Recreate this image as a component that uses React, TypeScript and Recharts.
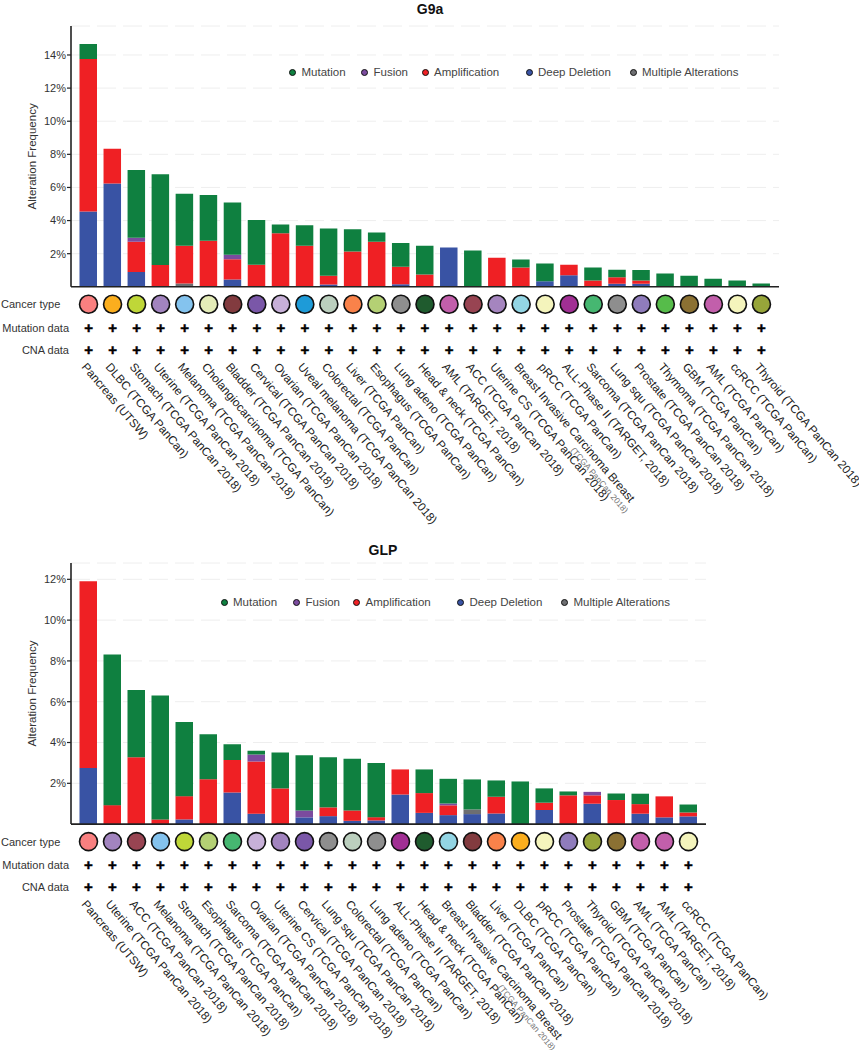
import { BarChart, Bar, XAxis, YAxis, CartesianGrid, Legend } from "recharts";

const FONT = "'Liberation Sans', Arial, sans-serif";

const MUTATION = "#0F8040";
const FUSION = "#7B4B9E";
const AMP = "#EF2024";
const DEEP = "#3953A4";
const MULTI = "#6D6E71";

const legendOrder = ["Mutation", "Fusion", "Amplification", "Deep Deletion", "Multiple Alterations"];

const g9aCategories = [
  "Pancreas (UTSW)", "DLBC (TCGA PanCan)", "Stomach (TCGA PanCan 2018)", "Uterine (TCGA PanCan 2018)",
  "Melanoma (TCGA PanCan 2018)", "Cholangiocarcinoma (TCGA PanCan)", "Bladder (TCGA PanCan 2018)",
  "Cervical (TCGA PanCan 2018)", "Ovarian (TCGA PanCan 2018)", "Uveal melanoma (TCGA PanCan 2018)",
  "Colorectal (TCGA PanCan)", "Liver (TCGA PanCan)", "Esophagus (TCGA PanCan)", "Lung adeno (TCGA PanCan)",
  "Head & neck (TCGA PanCan)", "AML (TARGET, 2018)", "ACC (TCGA PanCan 2018)", "Uterine CS (TCGA PanCan 2018)",
  "Breast Invasive Carcinoma Breast (TCGA PanCan 2018)", "pRCC (TCGA PanCan)", "ALL-Phase II (TARGET, 2018)",
  "Sarcoma (TCGA PanCan 2018)", "Lung squ (TCGA PanCan 2018)", "Prostate (TCGA PanCan 2018)",
  "Thymoma (TCGA PanCan 2018)", "GBM (TCGA PanCan)", "AML (TCGA PanCan)", "ccRCC (TCGA PanCan)",
  "Thyroid (TCGA PanCan 2018)",
];
const g9aDeep = [4.55, 6.24, 0.89, 0, 0, 0, 0.44, 0, 0, 0, 0.14, 0, 0, 0.16, 0, 2.38, 0, 0, 0, 0.34, 0.7, 0, 0.18, 0.18, 0, 0, 0, 0, 0];
const g9aMulti = [0, 0, 0, 0, 0.2, 0, 0, 0, 0, 0, 0, 0, 0, 0, 0, 0, 0, 0, 0, 0, 0, 0, 0, 0, 0, 0, 0, 0, 0];
const g9aAmp = [9.2, 2.09, 1.83, 1.31, 2.28, 2.78, 1.23, 1.33, 3.24, 2.48, 0.52, 2.13, 2.72, 1.05, 0.74, 0, 0, 1.75, 1.17, 0, 0.63, 0.38, 0.4, 0.2, 0, 0, 0, 0, 0];
const g9aFusion = [0, 0, 0.24, 0, 0, 0, 0.26, 0, 0, 0, 0, 0, 0, 0, 0, 0, 0, 0, 0, 0, 0, 0, 0, 0, 0, 0, 0, 0, 0];
const g9aMutation = [0.92, 0, 4.09, 5.49, 3.14, 2.76, 3.16, 2.7, 0.52, 1.24, 2.86, 1.35, 0.56, 1.43, 1.74, 0, 2.19, 0, 0.48, 1.07, 0, 0.79, 0.45, 0.63, 0.81, 0.66, 0.48, 0.38, 0.2];
const g9aColors = [
  "#F98080", "#FBAE1E", "#BFD738", "#A284BF", "#84C3EE", "#E4ECB8", "#823B3F", "#7A57A8", "#C7B0D8", "#1E9BD8",
  "#BBCFBE", "#F9824A", "#B4D074", "#8E8E8E", "#1F5B2E", "#C25FAB", "#984452", "#A585BF", "#93D5E4", "#F4F4BC",
  "#A12F94", "#46B771", "#8E8E8E", "#8F7CBC", "#56BC4A", "#8B7133", "#C25FAB", "#F4F4BC", "#97A53A",
];
const g9aTicks = [2, 4, 6, 8, 10, 12, 14];

const glpCategories = [
  "Pancreas (UTSW)", "Uterine (TCGA PanCan 2018)", "ACC (TCGA PanCan 2018)", "Melanoma (TCGA PanCan 2018)",
  "Stomach (TCGA PanCan 2018)", "Esophagus (TCGA PanCan)", "Sarcoma (TCGA PanCan 2018)", "Ovarian (TCGA PanCan 2018)",
  "Uterine CS (TCGA PanCan 2018)", "Cervical (TCGA PanCan 2018)", "Lung squ (TCGA PanCan 2018)",
  "Colorectal (TCGA PanCan)", "Lung adeno (TCGA PanCan)", "ALL-Phase II (TARGET, 2018)", "Head & neck (TCGA PanCan)",
  "Breast Invasive Carcinoma Breast (TCGA PanCan 2018)", "Bladder (TCGA PanCan 2018)", "Liver (TCGA PanCan)",
  "DLBC (TCGA PanCan)", "pRCC (TCGA PanCan)", "Prostate (TCGA PanCan 2018)", "Thyroid (TCGA PanCan 2018)",
  "GBM (TCGA PanCan)", "AML (TCGA PanCan)", "AML (TARGET, 2018)", "ccRCC (TCGA PanCan)",
];
const glpDeep = [2.75, 0, 0, 0, 0.23, 0, 1.55, 0.51, 0, 0.33, 0.39, 0.16, 0.18, 1.45, 0.55, 0.44, 0.49, 0.52, 0, 0.69, 0, 1.0, 0, 0.51, 0.33, 0.38];
const glpMulti = [0, 0, 0, 0, 0, 0, 0, 0, 0, 0, 0, 0, 0, 0, 0, 0, 0.23, 0, 0, 0, 0, 0, 0, 0, 0, 0];
const glpAmp = [9.16, 0.93, 3.28, 0.23, 1.14, 2.2, 1.59, 2.56, 1.75, 0, 0.43, 0.51, 0.16, 1.23, 0.97, 0.48, 0, 0.82, 0, 0.36, 1.41, 0.41, 1.18, 0.47, 1.03, 0.19];
const glpFusion = [0, 0, 0, 0, 0, 0, 0, 0.34, 0, 0.34, 0, 0, 0, 0, 0, 0.09, 0, 0, 0, 0, 0, 0.17, 0, 0, 0, 0];
const glpMutation = [0, 7.39, 3.3, 6.08, 3.63, 2.2, 0.78, 0.18, 1.76, 2.7, 2.46, 2.53, 2.66, 0, 1.16, 1.21, 1.47, 0.8, 2.09, 0.7, 0.19, 0, 0.32, 0.51, 0, 0.39];
const glpColors = [
  "#F98080", "#A284BF", "#984452", "#84C3EE", "#BFD738", "#B4D074", "#46B771", "#C7B0D8", "#A284BF", "#7A57A8",
  "#8E8E8E", "#BBCFBE", "#8E8E8E", "#A12F94", "#1F5B2E", "#93D5E4", "#823B3F", "#F9824A", "#FBAE1E", "#F4F4BC",
  "#8F7CBC", "#97A53A", "#8B7133", "#C25FAB", "#C25FAB", "#F4F4BC",
];
const glpTicks = [2, 4, 6, 8, 10, 12];

function buildRows(cats: string[], deep: number[], multi: number[], amp: number[], fusion: number[], mutation: number[]) {
  return cats.map((name, i) => ({
    name,
    "Deep Deletion": deep[i],
    "Multiple Alterations": multi[i],
    Amplification: amp[i],
    Fusion: fusion[i],
    Mutation: mutation[i],
  }));
}

// everything under the axis hangs off the tick: circle, two plus rows, slanted label
function CancerTick({ x, y, index, payload, colors }: any) {
  const label: string = payload.value;
  const isBreast = label.startsWith("Breast");
  const main = isBreast ? "Breast Invasive Carcinoma Breast" : label;
  return (
    <g fontFamily={FONT}>
      {index === 0 && (
        <g fontSize={11} fill="#333">
          <text x={1} y={y + 21.5}>Cancer type</text>
          <text x={69} y={y + 45} textAnchor="end">Mutation data</text>
          <text x={69} y={y + 67} textAnchor="end">CNA data</text>
        </g>
      )}
      <circle cx={x} cy={y + 17.5} r={9} fill={colors[index]} stroke="#111" strokeWidth={1.6} />
      <text x={x} y={y + 46} textAnchor="middle" fontSize={15} fontWeight="bold" fill="#000" stroke="#000" strokeWidth={0.5}>+</text>
      <text x={x} y={y + 68} textAnchor="middle" fontSize={15} fontWeight="bold" fill="#000" stroke="#000" strokeWidth={0.5}>+</text>
      <g transform={`translate(${x - 7.5},${y + 80.5}) rotate(49.5)`}>
        <text x={0} y={0} fontSize={11.8} fill="#222">{main}</text>
        {isBreast && (
          <text x={100} y={11} fontSize={8.5} fill="#777">(TCGA PanCan 2018)</text>
        )}
      </g>
    </g>
  );
}

function LegendRow({ dotX, colorOf }: { dotX: number[]; colorOf: Record<string, string> }) {
  return (
    <div style={{ position: "relative", width: 500, height: 16, fontFamily: FONT, fontSize: 11.5, color: "#444" }}>
      {legendOrder.map((name, i) => (
        <div key={name} style={{ position: "absolute", left: dotX[i], top: 0, whiteSpace: "nowrap", lineHeight: "16px" }}>
          <span
            style={{
              position: "absolute", left: 0, top: 4.5, width: 5, height: 5, borderRadius: "50%",
              background: colorOf[name], border: "1.2px solid #111",
            }}
          />
          <span style={{ position: "absolute", left: 12.5, top: 0 }}>{name}</span>
        </div>
      ))}
    </div>
  );
}

const colorOf = {
  Mutation: MUTATION, Fusion: FUSION, Amplification: AMP, "Deep Deletion": DEEP, "Multiple Alterations": MULTI,
};

function Panel({ rows, colors, ticks, maxY, height, right, top, axisHeight, legendLeft, legendTop, dotX }: any) {
  return (
    <BarChart width={859} height={height} data={rows} margin={{ top, right, bottom: 0, left: 0 }} barCategoryGap={0} style={{ overflow: "visible" }}>
      <CartesianGrid vertical={false} stroke="#eeeeee" strokeDasharray="19 7" />
      <XAxis
        dataKey="name"
        type="category"
        interval={0}
        height={axisHeight}
        padding={{ left: 5.5, right: 5.5 }}
        tickLine={false}
        tickSize={0}
        tickMargin={0}
        axisLine={{ stroke: "#222", strokeWidth: 1.6 }}
        tick={(p: any) => <CancerTick {...p} colors={colors} />}
      />
      <YAxis
        width={71}
        domain={[0, maxY]}
        ticks={ticks}
        allowDataOverflow
        tickSize={4}
        tickMargin={1}
        tickLine={{ stroke: "#222", strokeWidth: 1.2 }}
        axisLine={{ stroke: "#222", strokeWidth: 1.6 }}
        tick={{ fontSize: 11, fill: "#333", fontFamily: FONT }}
        tickFormatter={(v: number) => `${v}%`}
        label={{
          value: "Alteration Frequency",
          angle: -90,
          position: "insideLeft",
          dx: 27,
          style: { textAnchor: "middle", fontSize: 11.5, fill: "#333", fontFamily: FONT },
        }}
      />
      <Legend
        layout="horizontal"
        verticalAlign="middle"
        align="center"
        wrapperStyle={{ left: legendLeft, top: legendTop, width: 500 }}
        content={() => <LegendRow dotX={dotX} colorOf={colorOf} />}
      />
      <Bar dataKey="Deep Deletion" stackId="a" barSize={17.5} fill={DEEP} isAnimationActive={false} />
      <Bar dataKey="Multiple Alterations" stackId="a" barSize={17.5} fill={MULTI} isAnimationActive={false} />
      <Bar dataKey="Amplification" stackId="a" barSize={17.5} fill={AMP} isAnimationActive={false} />
      <Bar dataKey="Fusion" stackId="a" barSize={17.5} fill={FUSION} isAnimationActive={false} />
      <Bar dataKey="Mutation" stackId="a" barSize={17.5} fill={MUTATION} isAnimationActive={false} />
    </BarChart>
  );
}

const titleStyle = { position: "absolute" as const, fontFamily: FONT, fontWeight: "bold", fontSize: 14, color: "#111", transform: "translateX(-50%)" };

export default function App() {
  return (
    <div style={{ position: "absolute", left: 0, top: 0, width: 859, height: 1050, overflow: "hidden", background: "#fff" }}>
      <div style={{ ...titleStyle, left: 430, top: 1 }}>G9a</div>
      <div style={{ ...titleStyle, left: 383, top: 542 }}>GLP</div>
      <div style={{ position: "absolute", left: 0, top: 0 }}>
        <Panel
          rows={buildRows(g9aCategories, g9aDeep, g9aMulti, g9aAmp, g9aFusion, g9aMutation)}
          colors={g9aColors}
          ticks={g9aTicks}
          maxY={15.75}
          height={530}
          right={80}
          top={26}
          axisHeight={243.2}
          legendLeft={289}
          legendTop={64}
          dotX={[0, 72, 132.5, 236.5, 340.5]}
        />
      </div>
      <div style={{ position: "absolute", left: 0, top: 530 }}>
        <Panel
          rows={buildRows(glpCategories, glpDeep, glpMulti, glpAmp, glpFusion, glpMutation)}
          colors={glpColors}
          ticks={glpTicks}
          maxY={12.8}
          height={520}
          right={153}
          top={33}
          axisHeight={225.9}
          legendLeft={220.5}
          legendTop={64}
          dotX={[0, 72.5, 132.5, 236.5, 340.5]}
        />
      </div>
    </div>
  );
}
